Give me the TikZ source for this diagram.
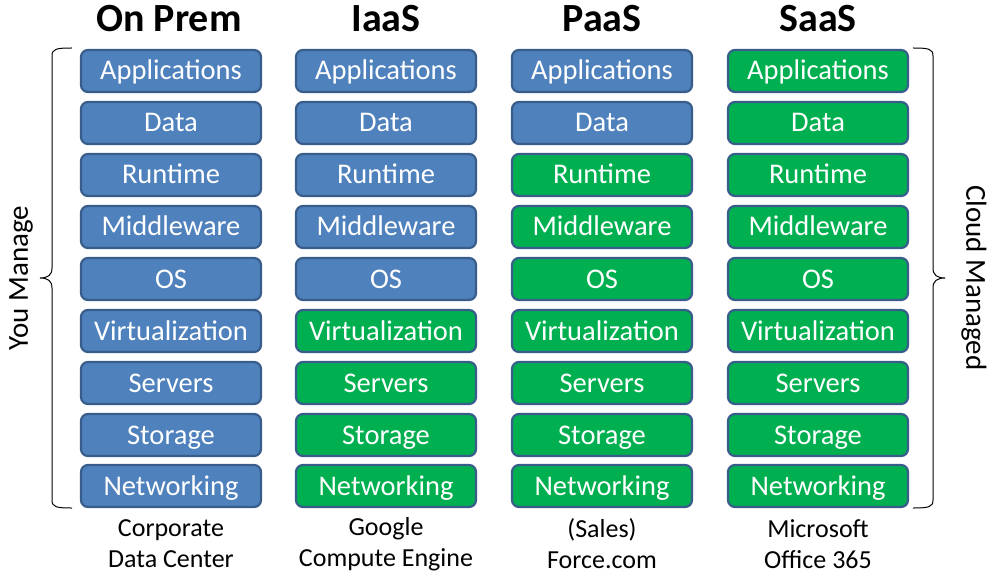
\documentclass[tikz,border=0pt]{standalone}
\usepackage{fontspec}
\setmainfont{Carlito}
\definecolor{bluefill}{HTML}{4F81BD}
\definecolor{greenfill}{HTML}{00B050}
\definecolor{boxborder}{HTML}{385D8A}
\begin{document}
\begin{tikzpicture}[x=1pt,y=-1pt,
  layer/.style={draw=boxborder,line width=2.2pt,rounded corners=7pt,minimum width=180pt,minimum height=42pt,inner sep=0pt,text height=22pt,text depth=4pt,text=white,font=\fontsize{28.5}{30}\selectfont},
  you/.style={layer,fill=bluefill},
  cloud/.style={layer,fill=greenfill},
  title/.style={font=\fontsize{40}{44}\selectfont\bfseries},
  foot/.style={font=\fontsize{26}{31}\selectfont,align=center},
  side/.style={font=\fontsize{29}{30}\selectfont},
  bracel/.style={line width=1pt}]
\useasboundingbox (0,0) rectangle (1000,577);
% titles
\node[title] (t1) at (169,19) {On Prem};
\node[title] (t2) at (386,19) {IaaS};
\node[title] (t3) at (602,19) {PaaS};
\node[title] (t4) at (818,19) {SaaS};
% rows
\def\rowA{71}\def\rowB{123}\def\rowC{175}\def\rowD{227}\def\rowE{279}
\def\rowF{331}\def\rowG{383}\def\rowH{435}\def\rowI{486}
% column 1
\node[you] (a1) at (171,\rowA) {Applications};
\node[you] (b1) at (171,\rowB) {Data};
\node[you] (c1) at (171,\rowC) {Runtime};
\node[you] (d1) at (171,\rowD) {Middleware};
\node[you] (e1) at (171,\rowE) {OS};
\node[you] (f1) at (171,\rowF) {Virtualization};
\node[you] (g1) at (171,\rowG) {Servers};
\node[you] (h1) at (171,\rowH) {Storage};
\node[you] (i1) at (171,\rowI) {Networking};
% column 2
\node[you] (a2) at (386,\rowA) {Applications};
\node[you] (b2) at (386,\rowB) {Data};
\node[you] (c2) at (386,\rowC) {Runtime};
\node[you] (d2) at (386,\rowD) {Middleware};
\node[you] (e2) at (386,\rowE) {OS};
\node[cloud] (f2) at (386,\rowF) {Virtualization};
\node[cloud] (g2) at (386,\rowG) {Servers};
\node[cloud] (h2) at (386,\rowH) {Storage};
\node[cloud] (i2) at (386,\rowI) {Networking};
% column 3
\node[you] (a3) at (602,\rowA) {Applications};
\node[you] (b3) at (602,\rowB) {Data};
\node[cloud] (c3) at (602,\rowC) {Runtime};
\node[cloud] (d3) at (602,\rowD) {Middleware};
\node[cloud] (e3) at (602,\rowE) {OS};
\node[cloud] (f3) at (602,\rowF) {Virtualization};
\node[cloud] (g3) at (602,\rowG) {Servers};
\node[cloud] (h3) at (602,\rowH) {Storage};
\node[cloud] (i3) at (602,\rowI) {Networking};
% column 4
\node[cloud] (a4) at (818,\rowA) {Applications};
\node[cloud] (b4) at (818,\rowB) {Data};
\node[cloud] (c4) at (818,\rowC) {Runtime};
\node[cloud] (d4) at (818,\rowD) {Middleware};
\node[cloud] (e4) at (818,\rowE) {OS};
\node[cloud] (f4) at (818,\rowF) {Virtualization};
\node[cloud] (g4) at (818,\rowG) {Servers};
\node[cloud] (h4) at (818,\rowH) {Storage};
\node[cloud] (i4) at (818,\rowI) {Networking};
% footers
\node[foot] (f1t) at (171,544) {Corporate\\Data Center};
\node[foot] (f2t) at (386,544) {Google\\Compute Engine};
\node[foot] (f3t) at (602,544) {(Sales)\\Force.com};
\node[foot] (f4t) at (818,544) {Microsoft\\Office 365};
% braces
\draw[bracel] (72,48) .. controls (56,48) and (52,49) .. (52,56) -- (52,268)
  .. controls (52,275) and (48,278) .. (40,278)
  .. controls (48,278) and (52,281) .. (52,288) -- (52,500)
  .. controls (52,507) and (56,508) .. (72,508);
\draw[bracel] (913,48) .. controls (929,48) and (933,49) .. (933,56) -- (933,268)
  .. controls (933,275) and (937,278) .. (945,278)
  .. controls (937,278) and (933,281) .. (933,288) -- (933,500)
  .. controls (933,507) and (929,508) .. (913,508);
\node[side,rotate=90] (ym) at (21,278) {You Manage};
\node[side,rotate=-90] (cm) at (974,278) {Cloud Managed};
\end{tikzpicture}
\end{document}
